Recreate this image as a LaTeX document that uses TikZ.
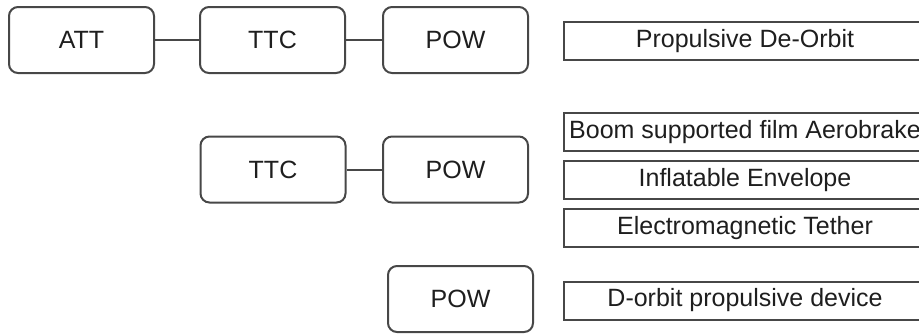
\documentclass[tikz,border=0pt]{standalone}
\usepackage{fontspec}
\setmainfont{Liberation Sans}
\definecolor{edge}{HTML}{474747}
\definecolor{ink}{HTML}{1E1E1E}
\begin{document}
\begin{tikzpicture}[x=0.5pt,y=-0.5pt,
    unit/.style={draw=edge, line width=1pt, rounded corners=4.5pt, minimum width=72.5pt, minimum height=33pt, inner sep=0pt, text=ink, font=\fontsize{12.5}{14}\selectfont},
    option/.style={draw=edge, line width=1pt, minimum width=181pt, minimum height=19pt, inner sep=0pt, text=ink, font=\fontsize{12.5}{14}\selectfont},
    link/.style={draw=edge, line width=1pt}]
    \useasboundingbox (0,0) rectangle (919,334);
    \clip (0,0) rectangle (919,334);
    % first chain
    \node[unit] (att) at (81.5,40) {ATT};
    \node[unit] (ttcA) at (272.5,40) {TTC};
    \node[unit] (powA) at (455.5,40) {POW};
    \node[option] (deorbit) at (745,41) {Propulsive De-Orbit};
    \draw[link] (att) -- (ttcA);
    \draw[link] (ttcA) -- (powA);
    % second chain
    \node[unit] (ttcB) at (273,169.5) {TTC};
    \node[unit] (powB) at (455.5,169.5) {POW};
    \node[option] (boom) at (745,132) {Boom supported film Aerobrake};
    \node[option] (envelope) at (745,180) {Inflatable Envelope};
    \node[option] (tether) at (745,228) {Electromagnetic Tether};
    \draw[link] (ttcB) -- (powB);
    % third chain
    \node[unit] (powC) at (460.5,299) {POW};
    \node[option] (device) at (745,300.5) {D-orbit propulsive device};
\end{tikzpicture}
\end{document}
